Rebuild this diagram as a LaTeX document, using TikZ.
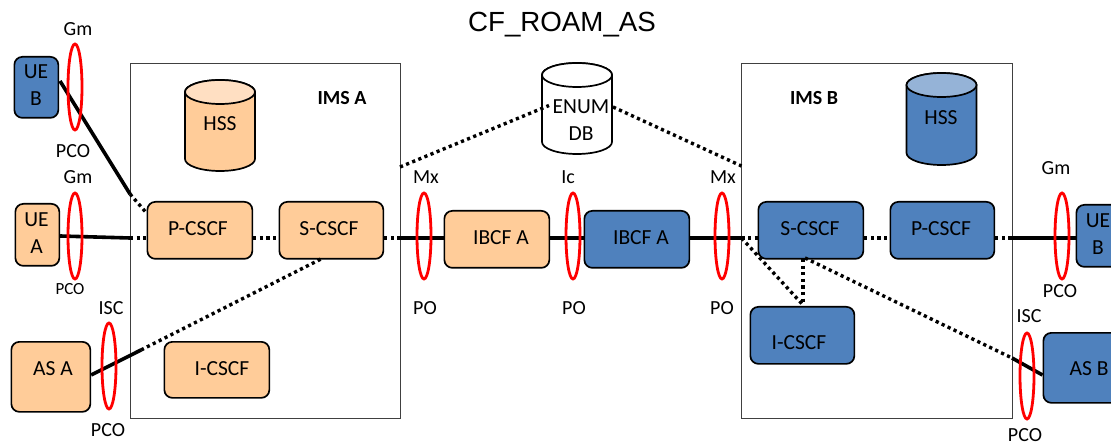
\documentclass[tikz,border=0pt]{standalone}
\usepackage{fontspec}
\setmainfont{Carlito}
\newfontfamily\titlefont{Liberation Sans}
\definecolor{peach}{HTML}{FFCC99}
\definecolor{peachtop}{HTML}{FFDFC2}
\definecolor{steel}{HTML}{4F81BD}
\definecolor{steeltop}{HTML}{95B3D7}
\tikzset{
  lbl/.style={inner sep=0pt,font=\fontsize{20}{22}\selectfont,align=center},
  boxlbl/.style={inner sep=0pt,font=\fontsize{21.5}{27}\selectfont,align=center},
  smalllbl/.style={inner sep=0pt,font=\fontsize{17}{19}\selectfont},
  imslbl/.style={inner sep=0pt,font=\bfseries\fontsize{20}{22}\selectfont},
  unitbox/.style={draw=black,line width=1.7pt,rounded corners=8pt,inner sep=0pt,anchor=north west},
  orangebox/.style={unitbox,fill=peach},
  bluebox/.style={unitbox,fill=steel},
  imsbox/.style={draw=black!75,line width=1pt,inner sep=0pt,anchor=north west},
  ring/.style={draw=red,line width=2.8pt,ellipse,inner sep=0pt,minimum width=14pt,minimum height=86pt},
  solidlink/.style={draw=black,line width=3.6pt},
  dotlink/.style={draw=black,line width=3.4pt,dash pattern=on 3.2pt off 3.4pt},
  dbshape/.style={draw=black,line width=1.7pt},
}
% centre x, top y, bottom y, body colour, lid colour
\newcommand{\dbdraw}[5]{%
  \path[dbshape,fill=#4] (#1-35,#2+12) -- (#1-35,#3-12)
     arc[start angle=180,end angle=360,x radius=35,y radius=-12]
     -- (#1+35,#2+12) arc[start angle=0,end angle=180,x radius=35,y radius=-12] -- cycle;
  \path[dbshape,fill=#5] (#1,#2+12) ellipse[x radius=35,y radius=12];
}
\usetikzlibrary{shapes.geometric}
\begin{document}
\begin{tikzpicture}[x=1pt,y=-1pt]
\useasboundingbox (0,0) rectangle (1111,446);
\clip (0,0) rectangle (1111,446);
\fill[white] (0,0) rectangle (1111,446);
\node[inner sep=0pt,font=\titlefont\fontsize{27.7}{30}\selectfont] (title) at (562,25) {CF\_ROAM\_AS};
% domains
\node[imsbox,minimum width=270pt,minimum height=355pt] (imsa) at (129.5,63) {};
\node[imsbox,minimum width=270.5pt,minimum height=355pt] (imsb) at (741,63) {};
% units
\node[bluebox,minimum width=44pt,minimum height=61pt] (ueb1) at (13.5,56) {};
\node[orangebox,minimum width=44pt,minimum height=62pt] (uea) at (14.5,203) {};
\node[orangebox,minimum width=79pt,minimum height=70pt] (asa) at (10.5,341) {};
\node[orangebox,minimum width=105pt,minimum height=57pt] (pa) at (146.5,201) {};
\node[orangebox,minimum width=104pt,minimum height=57pt] (sa) at (278.5,201) {};
\node[orangebox,minimum width=105pt,minimum height=56pt] (ia) at (163.5,341) {};
\node[orangebox,minimum width=105pt,minimum height=57pt] (ibcfa) at (443.5,210) {};
\node[bluebox,minimum width=105pt,minimum height=57pt] (ibcfb) at (583.5,210) {};
\node[bluebox,minimum width=105pt,minimum height=57pt] (sb) at (757.5,201) {};
\node[bluebox,minimum width=104pt,minimum height=57pt] (pb) at (889.5,201) {};
\node[bluebox,minimum width=104pt,minimum height=57pt] (ib) at (749.5,306) {};
\node[bluebox,minimum width=44pt,minimum height=62pt] (ueb2) at (1075.5,204) {};
\node[bluebox,minimum width=87pt,minimum height=70pt] (asb) at (1042.5,332) {};
% cylinders
\dbdraw{220}{80}{171}{peach}{peachtop}
\dbdraw{941.5}{73}{165}{steel}{steeltop}
\dbdraw{577}{63}{154}{white}{white}
% junction points
\coordinate (ueb1p) at (60,81);
\coordinate (j1) at (130,194);
\coordinate (j2) at (130,238);
\coordinate (j3) at (141,350);
\coordinate (j4) at (400,238);
\coordinate (j5) at (741.5,238);
\coordinate (j6) at (1012,238);
\coordinate (j7) at (1012,358);
\coordinate (j8) at (400,167);
\coordinate (j9) at (741.5,166);
\coordinate (j10) at (549,105.5);
\coordinate (j11) at (613,107);
\coordinate (sab) at (323,258);
\coordinate (sbb) at (805,258);
\coordinate (sbv) at (803,259);
\coordinate (ibt) at (803,305);
% connectors
\draw[solidlink] (ueb1p) -- (j1);
\draw[dotlink] (j1) -- (pa.west |- 0,213);
\draw[solidlink] (uea.east |- 0,236) -- (j2);
\draw[dotlink] (j2) -- (pa.west |- j2);
\draw[dotlink] (pa.east |- j2) -- (sa.west |- j2);
\draw[dotlink] (sa.east |- j2) -- (j4);
\draw[solidlink] (j4) -- (ibcfa.west |- j4);
\draw[solidlink] (ibcfa.east |- j4) -- (ibcfb.west |- j4);
\draw[solidlink] (ibcfb.east |- j4) -- (j5);
\draw[dotlink] (j5) -- (sb.west |- j5);
\draw[dotlink] (sb.east |- j5) -- (pb.west |- j5);
\draw[dotlink] (pb.east |- j5) -- (j6);
\draw[solidlink] (j6) -- (ueb2.west |- j6);
\draw[solidlink] (asa.east |- 0,375) -- (j3);
\draw[dotlink] (j3) -- (sab);
\draw[dotlink] (j8) -- (j10);
\draw[dotlink] (j11) -- (j9);
\draw[dotlink] (j5) -- (ibt);
\draw[dotlink] (sbv) -- (ibt);
\draw[dotlink] (sbb) -- (j7);
\draw[solidlink] (j7) -- (asb.west |- 0,375);
% rings
\node[ring] (r1) at (75,87) {};
\node[ring] (r2) at (75,236) {};
\node[ring] (r3) at (109,366) {};
\node[ring] (r4) at (424,236) {};
\node[ring] (r5) at (573,236) {};
\node[ring] (r6) at (722,236) {};
\node[ring] (r7) at (1062,236) {};
\node[ring] (r8) at (1027,376) {};
% box labels
\node[boxlbl] (t1) at (36,85.5) {UE\\B};
\node[boxlbl] (t2) at (36.5,233.5) {UE\\A};
\node[boxlbl] (t3) at (53,369) {AS A};
\node[boxlbl] (t4) at (198,229) {P-CSCF};
\node[boxlbl] (t5) at (329,229) {S-CSCF};
\node[boxlbl] (t6) at (222,369) {I-CSCF};
\node[boxlbl] (t7) at (501,238) {IBCF A};
\node[boxlbl] (t8) at (641,238) {IBCF A};
\node[boxlbl] (t9) at (810,229) {S-CSCF};
\node[boxlbl] (t10) at (941,229) {P-CSCF};
\node[boxlbl] (t11) at (799,343) {I-CSCF};
\node[boxlbl] (t12) at (1098,234) {UE\\B};
\node[boxlbl] (t13) at (1089,369) {AS B};
\node[boxlbl] (t14) at (220,124) {HSS};
\node[boxlbl] (t15) at (941,118) {HSS};
\node[boxlbl] (t16) at (581,120) {ENUM\\DB};
\node[imslbl] (t17) at (342,98) {IMS A};
\node[imslbl] (t18) at (814,98) {IMS B};
% interface labels
\node[lbl] (g1) at (78,29) {Gm};
\node[lbl] (g2) at (78,177) {Gm};
\node[lbl] (g3) at (1056,168) {Gm};
\node[lbl] (p1) at (73,151) {PCO};
\node[smalllbl] (p2) at (70,289) {PCO};
\node[lbl] (p3) at (108,430) {PCO};
\node[lbl] (p4) at (1060,291) {PCO};
\node[lbl] (p5) at (1025,435.5) {PCO};
\node[lbl] (i1) at (111,308) {ISC};
\node[lbl] (i2) at (1029,316) {ISC};
\node[lbl] (m1) at (426,177) {Mx};
\node[lbl] (m2) at (723,177) {Mx};
\node[lbl] (c1) at (568,177) {Ic};
\node[lbl] (o1) at (425,308) {PO};
\node[lbl] (o2) at (574,308) {PO};
\node[lbl] (o3) at (722,308) {PO};
\end{tikzpicture}
\end{document}
